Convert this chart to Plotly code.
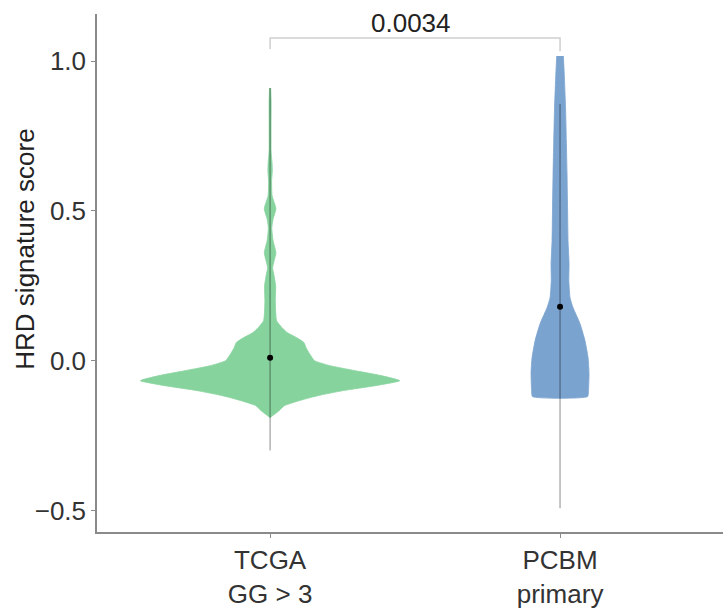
import plotly.graph_objects as go

# ---- data ----
categories = ["TCGA<br>GG > 3", "PCBM<br>primary"]
cat_pos = [1, 2]

tcga_score = [0.91, 0.867, 0.70, 0.657, 0.633, 0.60, 0.55, 0.507, 0.473, 0.443,
              0.40, 0.36, 0.333, 0.31, 0.283, 0.25, 0.2, 0.167, 0.133, 0.11,
              0.093, 0.077, 0.06, 0.043, 0.023, 0.0, -0.017, -0.033, -0.05,
              -0.067, -0.083, -0.1, -0.117, -0.133, -0.15, -0.167, -0.19]
tcga_halfwidth = [0.002, 0.0034, 0.0034, 0.0069, 0.0076, 0.0052, 0.0069, 0.020,
                  0.0103, 0.0059, 0.0103, 0.020, 0.0138, 0.0086, 0.0138, 0.019,
                  0.018, 0.019, 0.0224, 0.041, 0.060, 0.091, 0.117, 0.124,
                  0.136, 0.153, 0.207, 0.29, 0.383, 0.447, 0.366, 0.252, 0.164,
                  0.102, 0.05, 0.031, 0.0]

pcbm_score = [1.017, 0.957, 0.843, 0.733, 0.623, 0.51, 0.40, 0.323, 0.267, 0.21,
              0.177, 0.123, 0.067, 0.01, -0.043, -0.10, -0.12]
pcbm_halfwidth = [0.0114, 0.0145, 0.019, 0.0217, 0.0241, 0.0259, 0.0276, 0.031,
                  0.0303, 0.0345, 0.0448, 0.069, 0.086, 0.0966, 0.100, 0.098, 0.095]

means = [0.01, 0.18]
range_low = [-0.30, -0.493]
range_high = [0.91, 0.857]

p_value_label = "0.0034"
bracket_top = 1.077
bracket_ends = [1.04, 1.033]

# ---- styles ----
fills = ["#87d39d", "#7ba3cf"]
FONT = "Liberation Sans, Arial, Helvetica, sans-serif"

fig = go.Figure()

profiles = [(tcga_score, tcga_halfwidth), (pcbm_score, pcbm_halfwidth)]
for pos, (ys, ws), col in zip(cat_pos, profiles, fills):
    xs = [pos + w for w in ws] + [pos - w for w in ws[::-1]]
    yy = list(ys) + list(ys[::-1])
    fig.add_trace(go.Scatter(x=xs, y=yy, mode="lines", fill="toself",
                             fillcolor=col,
                             line=dict(color=col, width=0.8, shape="spline", smoothing=0.5),
                             hoverinfo="skip", showlegend=False))

for pos, lo, hi in zip(cat_pos, range_low, range_high):
    fig.add_trace(go.Scatter(x=[pos, pos], y=[lo, hi], mode="lines",
                             line=dict(color="rgba(0,0,0,0.3)", width=1.5),
                             hoverinfo="skip", showlegend=False))

fig.add_trace(go.Scatter(x=cat_pos, y=means, mode="markers",
                         marker=dict(color="black", size=6),
                         hoverinfo="skip", showlegend=False))

# significance bracket
fig.add_trace(go.Scatter(x=[cat_pos[0], cat_pos[0], cat_pos[1], cat_pos[1]],
                         y=[bracket_ends[0], bracket_top, bracket_top, bracket_ends[1]],
                         mode="lines", line=dict(color="#cfcfcf", width=1.5),
                         hoverinfo="skip", showlegend=False))
fig.add_annotation(x=(cat_pos[0] + cat_pos[1]) / 2, y=bracket_top, text=p_value_label,
                   showarrow=False, yanchor="bottom", xshift=-4, yshift=-2,
                   font=dict(family=FONT, size=26, color="#222222"))

# y-axis title
fig.add_annotation(xref="paper", yref="paper", x=-0.115, y=0.545,
                   text="HRD signature score", textangle=-90, showarrow=False,
                   xanchor="center", yanchor="middle",
                   font=dict(family=FONT, size=26, color="#222222"))

fig.update_layout(
    width=723, height=610,
    margin=dict(l=97, r=0, t=14, b=78),
    plot_bgcolor="white", paper_bgcolor="white",
    font=dict(family=FONT, size=26, color="#333333"),
)
fig.update_xaxes(range=[0.403, 2.562], tickvals=cat_pos, ticktext=categories,
                 showgrid=False, zeroline=False, showline=True, linecolor="#8a8a8a",
                 linewidth=1.5, ticks="outside", ticklen=4, tickcolor="#8a8a8a",
                 tickfont=dict(family=FONT, size=26, color="#333333"))
fig.update_yaxes(range=[-0.572, 1.157], tickvals=[-0.5, 0.0, 0.5, 1.0],
                 ticktext=["\u22120.5", "0.0", "0.5", "1.0"],
                 showgrid=False, zeroline=False, showline=True, linecolor="#8a8a8a",
                 linewidth=1.5, ticks="outside", ticklen=4, tickcolor="#8a8a8a",
                 tickfont=dict(family=FONT, size=26, color="#333333"))

fig.write_html("out.html")
